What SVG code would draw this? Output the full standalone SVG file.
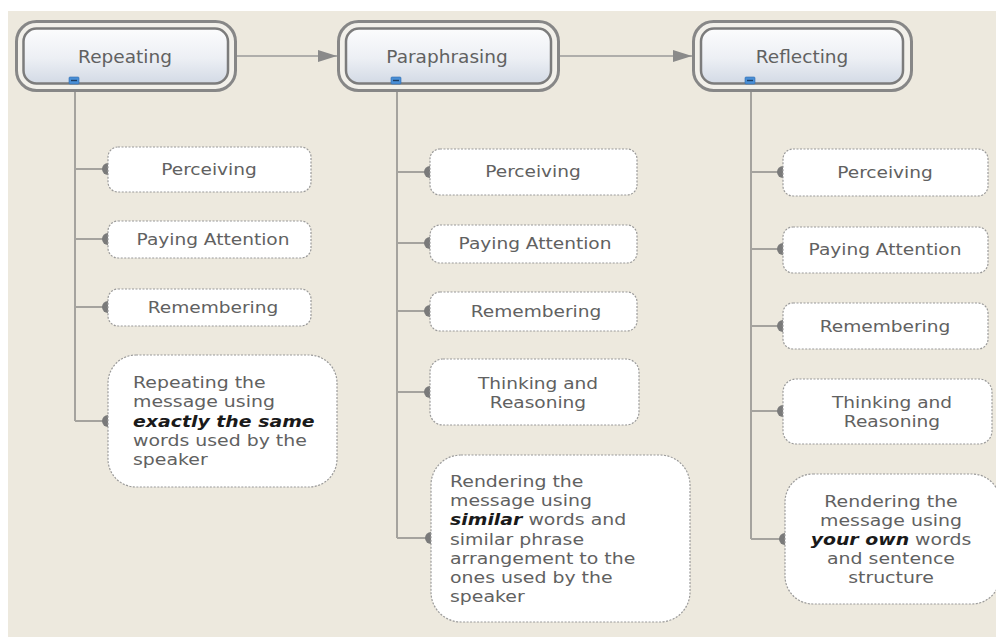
<svg xmlns="http://www.w3.org/2000/svg" width="996" height="637" viewBox="0 0 996 637">
<defs>
<linearGradient id="tg" x1="0" y1="0" x2="0" y2="1">
<stop offset="0" stop-color="#fcfcfd"/>
<stop offset="0.55" stop-color="#eceff4"/>
<stop offset="1" stop-color="#d3dae5"/>
</linearGradient>
<marker id="arr" markerWidth="20" markerHeight="12" refX="19" refY="6" orient="auto" markerUnits="userSpaceOnUse">
<path d="M0,0 L19,6 L0,12 Z" fill="#8a8a8a"/>
</marker>
<style>
.outer{fill:#f2f0ea;stroke:#878787;stroke-width:3}
.inner{fill:url(#tg);stroke:#7c7c7c;stroke-width:2.5}
.icon{fill:#4a8fd6;stroke:#2f6db0;stroke-width:0.6}
.child{fill:#ffffff;stroke:#9a9a9a;stroke-width:1.2;stroke-dasharray:2 1.5}
.conn{fill:none;stroke:#a5a39e;stroke-width:2}
.flow{fill:none;stroke:#9a9a9a;stroke-width:1.6}
.dot{fill:#7a7a7a}
.t{font-family:"DejaVu Sans",Verdana,sans-serif;fill:#616161}
.tt{font-size:17px;text-anchor:middle}
.ts{font-size:16px;text-anchor:middle}
.tl{font-size:15px}
.b{font-weight:bold;font-style:italic;fill:#1a1a1a}
</style>
</defs>
<rect x="0" y="0" width="996" height="637" fill="#ffffff"/>
<rect x="8" y="11" width="988" height="626" fill="#ede9de"/>

<g id="connectors">
<path class="flow" d="M237,56 L337,56" marker-end="url(#arr)"/>
<path class="flow" d="M560,56 L692,56" marker-end="url(#arr)"/>
<path class="conn" d="M75,84 L75,421"/>
<path class="conn" d="M75,169 H106 M75,239 H106 M75,307 H106 M75,421 H106"/>
<path class="conn" d="M397,84 L397,538"/>
<path class="conn" d="M397,172 H428 M397,243 H428 M397,311 H428 M397,392 H428 M397,538 H429"/>
<path class="conn" d="M751,84 L751,539"/>
<path class="conn" d="M751,172 H781 M751,249 H781 M751,326 H781 M751,411 H781 M751,539 H783"/>
<g class="dot">
<path d="M108,163 A6,6 0 0,0 108,175 Z"/>
<path d="M108,233 A6,6 0 0,0 108,245 Z"/>
<path d="M108,301 A6,6 0 0,0 108,313 Z"/>
<path d="M108,415 A6,6 0 0,0 108,427 Z"/>
<path d="M430,166 A6,6 0 0,0 430,178 Z"/>
<path d="M430,237 A6,6 0 0,0 430,249 Z"/>
<path d="M430,305 A6,6 0 0,0 430,317 Z"/>
<path d="M430,386 A6,6 0 0,0 430,398 Z"/>
<path d="M431,532 A6,6 0 0,0 431,544 Z"/>
<path d="M783,166 A6,6 0 0,0 783,178 Z"/>
<path d="M783,243 A6,6 0 0,0 783,255 Z"/>
<path d="M783,320 A6,6 0 0,0 783,332 Z"/>
<path d="M783,405 A6,6 0 0,0 783,417 Z"/>
<path d="M785,533 A6,6 0 0,0 785,545 Z"/>
</g>
</g>

<g id="repeating">
<rect class="outer" x="16.5" y="21.5" width="219" height="69" rx="20"/>
<rect class="inner" x="23.5" y="28.5" width="204.5" height="55" rx="13"/>
<rect class="icon" x="69" y="77" width="10" height="7" rx="1"/>
<path d="M71,80.5 H77" stroke="#1d3f66" stroke-width="1.4"/>
<text class="t tt" transform="translate(125,63) scale(1.09,1)">Repeating</text>
</g>
<g id="paraphrasing">
<rect class="outer" x="338.5" y="21.5" width="220" height="69" rx="20"/>
<rect class="inner" x="346" y="28.5" width="205" height="55" rx="13"/>
<rect class="icon" x="391" y="77" width="10" height="7" rx="1"/>
<path d="M393,80.5 H399" stroke="#1d3f66" stroke-width="1.4"/>
<text class="t tt" transform="translate(447,63) scale(1.09,1)">Paraphrasing</text>
</g>
<g id="reflecting">
<rect class="outer" x="693.5" y="21.5" width="218" height="69" rx="20"/>
<rect class="inner" x="701" y="28.5" width="202" height="55" rx="13"/>
<rect class="icon" x="745" y="77" width="10" height="7" rx="1"/>
<path d="M747,80.5 H753" stroke="#1d3f66" stroke-width="1.4"/>
<text class="t tt" transform="translate(802,63) scale(1.09,1)">Reflecting</text>
</g>

<g id="c1-perceiving">
<rect class="child" x="108" y="147" width="203" height="45" rx="10"/>
<text class="t ts" transform="translate(209,175) scale(1.16,1)">Perceiving</text>
</g>
<g id="c1-paying">
<rect class="child" x="108" y="221" width="203" height="37" rx="10"/>
<text class="t ts" transform="translate(213,245) scale(1.16,1)">Paying Attention</text>
</g>
<g id="c1-remembering">
<rect class="child" x="108" y="289" width="203" height="37" rx="10"/>
<text class="t ts" transform="translate(213,313) scale(1.16,1)">Remembering</text>
</g>
<g id="c1-desc">
<rect class="child" x="108" y="355" width="229" height="132" rx="28"/>
<text class="t tl" transform="translate(133,388) scale(1.26,1)"><tspan x="0" y="0">Repeating the</tspan><tspan x="0" y="19.3">message using</tspan><tspan x="0" y="38.6" class="b">exactly the same</tspan><tspan x="0" y="57.9">words used by the</tspan><tspan x="0" y="77.2">speaker</tspan></text>
</g>

<g id="c2-perceiving">
<rect class="child" x="430" y="149" width="207" height="46" rx="10"/>
<text class="t ts" transform="translate(533,177) scale(1.16,1)">Perceiving</text>
</g>
<g id="c2-paying">
<rect class="child" x="430" y="225" width="207" height="38" rx="10"/>
<text class="t ts" transform="translate(535,249) scale(1.16,1)">Paying Attention</text>
</g>
<g id="c2-remembering">
<rect class="child" x="430" y="292" width="207" height="39" rx="10"/>
<text class="t ts" transform="translate(536,317) scale(1.16,1)">Remembering</text>
</g>
<g id="c2-thinking">
<rect class="child" x="430" y="359" width="209" height="66" rx="13"/>
<text class="t ts" transform="translate(538,389) scale(1.16,1)"><tspan x="0" y="0">Thinking and</tspan><tspan x="0" y="19">Reasoning</tspan></text>
</g>
<g id="c2-desc">
<rect class="child" x="431" y="455" width="259" height="167" rx="30"/>
<text class="t tl" transform="translate(450,487) scale(1.26,1)"><tspan x="0" y="0">Rendering the</tspan><tspan x="0" y="19.2">message using</tspan><tspan x="0" y="38.4"><tspan class="b">similar</tspan> words and</tspan><tspan x="0" y="57.6">similar phrase</tspan><tspan x="0" y="76.8">arrangement to the</tspan><tspan x="0" y="96">ones used by the</tspan><tspan x="0" y="115.2">speaker</tspan></text>
</g>

<g id="c3-perceiving">
<rect class="child" x="783" y="149" width="205" height="47" rx="10"/>
<text class="t ts" transform="translate(885,178) scale(1.16,1)">Perceiving</text>
</g>
<g id="c3-paying">
<rect class="child" x="783" y="227" width="205" height="46" rx="10"/>
<text class="t ts" transform="translate(885,255) scale(1.16,1)">Paying Attention</text>
</g>
<g id="c3-remembering">
<rect class="child" x="783" y="303" width="205" height="46" rx="10"/>
<text class="t ts" transform="translate(885,332) scale(1.16,1)">Remembering</text>
</g>
<g id="c3-thinking">
<rect class="child" x="783" y="379" width="209" height="65" rx="13"/>
<text class="t ts" transform="translate(892,408) scale(1.16,1)"><tspan x="0" y="0">Thinking and</tspan><tspan x="0" y="19">Reasoning</tspan></text>
</g>
<g id="c3-desc">
<rect class="child" x="785" y="474" width="215" height="130" rx="28"/>
<text class="t tl" text-anchor="middle" transform="translate(891,507) scale(1.26,1)"><tspan x="0" y="0">Rendering the</tspan><tspan x="0" y="19">message using</tspan><tspan x="0" y="38"><tspan class="b">your own</tspan> words</tspan><tspan x="0" y="57">and sentence</tspan><tspan x="0" y="76">structure</tspan></text>
</g>
</svg>
